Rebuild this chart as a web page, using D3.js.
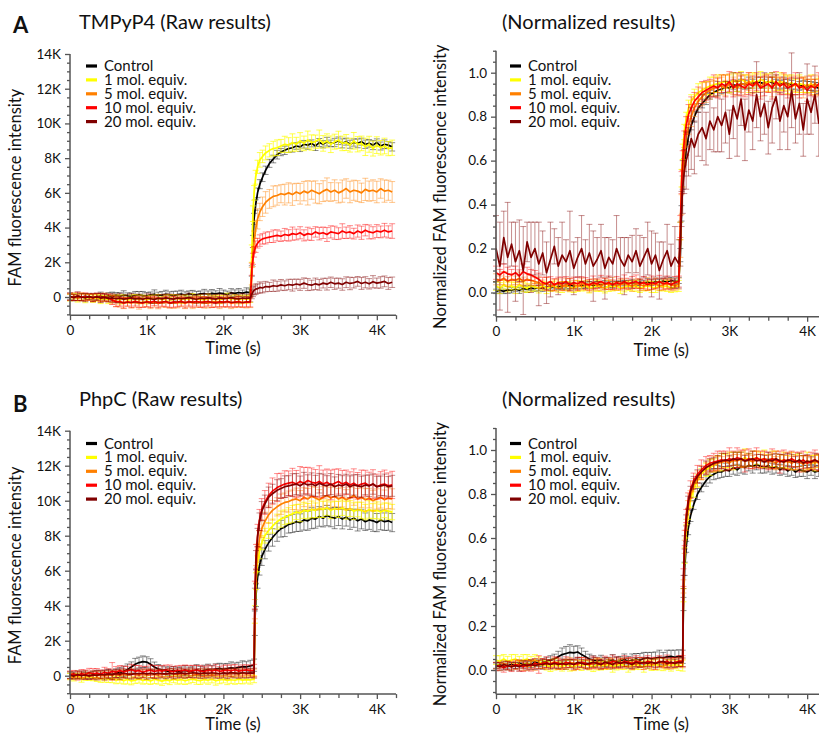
<!DOCTYPE html>
<html><head><meta charset="utf-8">
<script src="https://cdn.jsdelivr.net/npm/d3@7"></script>
<style>body{margin:0;background:#fff}svg{display:block}text{font-family:Lato,"Open Sans",sans-serif;fill:#111}</style>
</head><body><svg id="c" width="819" height="734"></svg>
<script>
const seriesNames = ["Control","1 mol. equiv.","5 mol. equiv.","10 mol. equiv.","20 mol. equiv."];
const seriesColors = ["#000000","#ffff00","#ff8000","#ff0000","#800000"];
const rawTicks = [0,2000,4000,6000,8000,10000,12000,14000];
const normTicks = [0,0.2,0.4,0.6,0.8,1.0];
const timeTicks = [0,1000,2000,3000,4000];

const timesA = [0,50,100,150,200,250,300,350,400,450,500,550,
 600,650,700,750,800,850,900,950,1000,1050,1100,1150,
 1200,1250,1300,1350,1400,1450,1500,1550,1600,1650,1700,1750,
 1800,1850,1900,1950,2000,2050,2100,2150,2200,2250,2300,2350,
 2370,2385,2400,2420,2445,2475,2510,2550,2600,2650,2700,2750,2800,2850,
 2900,2950,3000,3050,3100,3150,3200,3250,3300,
 3350,3400,3450,3500,3550,3600,3650,3700,3750,
 3800,3850,3900,3950,4000,4050,4100,4150,4200];
const timesB = [0,50,100,150,200,250,300,350,400,450,500,550,
 600,650,700,750,800,850,900,950,1000,1050,1100,1150,
 1200,1250,1300,1350,1400,1450,1500,1550,1600,1650,1700,1750,
 1800,1850,1900,1950,2000,2050,2100,2150,2200,2250,2300,2350,
 2400,2410,2425,2445,2470,2500,2540,2590,2640,2700,2750,2800,2850,
 2900,2950,3000,3050,3100,3150,3200,3250,3300,
 3350,3400,3450,3500,3550,3600,3650,3700,3750,
 3800,3850,3900,3950,4000,4050,4100,4150,4200];

// ===== A: TMPyP4, raw =====
const aRawCtrl = [20,-30,50,-10,40,0,-40,30,60,10,70,40,
 90,50,110,70,40,100,130,80,60,120,150,90,
 110,160,120,80,140,170,110,190,150,120,180,200,
 160,210,180,230,190,150,240,210,260,220,280,250,
 1500,3200,4500,5300,6000,6500,6900,7300,7700,7950,8200,8350,8450,8550,
 8600,8700,8650,8800,8750,8850,8700,8900,8800,
 8950,8850,8900,9000,8850,8950,8800,8900,8850,
 8950,8800,8850,8750,8900,8700,8800,8750,8650];
const aRawCtrlErr = [150,190,130,210,160,140,200,170,220,150,180,240,
 160,200,250,170,190,220,180,240,200,170,260,190,
 210,230,180,250,200,220,190,160,230,200,170,240,
 190,220,180,260,210,190,240,200,230,180,250,210,
 300,350,320,300,280,260,250,240,230,220,250,210,240,220,
 250,190,270,220,240,200,260,230,210,
 250,190,240,220,260,200,230,210,250,
 200,240,220,260,210,230,250,200,240];
const aRawEq1 = [-30,40,-60,10,-80,-20,-100,-50,-140,-80,-160,-100,
 -60,-150,-90,-180,-110,-50,-140,-90,-170,-80,-130,-60,
 -150,-100,-40,-120,-70,-160,-90,-130,-50,-140,-110,-170,
 -80,-130,-60,-150,-100,-40,-120,-80,-150,-90,-130,-100,
 2500,4800,6000,6900,7500,7900,8100,8300,8450,8550,8600,8700,8800,8750,
 8900,8800,9000,8850,9050,8900,8950,9100,8850,
 9000,8800,8950,9050,8850,8900,8750,9000,8800,
 8850,8650,8800,8550,8750,8600,8700,8550,8600];
const aRawEq1Err = [200,150,230,180,250,170,210,190,240,160,220,200,
 180,260,210,170,230,190,250,200,220,180,240,210,
 190,230,170,250,200,220,210,180,240,200,230,190,
 250,210,180,230,200,260,190,220,240,200,230,210,
 500,450,420,400,380,420,360,400,380,420,450,380,460,430,
 500,400,470,420,510,440,380,520,450,
 400,480,430,500,420,460,400,480,440,
 420,500,460,430,480,420,450,410,440];
const aRawEq5 = [-20,30,-50,10,-40,20,-30,0,-60,-20,-50,-150,
 -250,-300,-350,-280,-330,-300,-360,-310,-290,-340,-300,-370,
 -320,-280,-350,-310,-330,-290,-360,-300,-340,-310,-280,-320,
 -350,-300,-270,-340,-310,-290,-350,-320,-280,-330,-300,-310,
 1200,2300,3200,3900,4500,4900,5200,5450,5650,5800,5850,5950,5900,6000,
 5900,6050,5950,6100,6000,6150,6050,5950,6100,
 6200,6050,6150,6000,6100,6250,6050,6150,6100,
 6000,6200,6100,6150,6050,6250,6100,6150,6050];
const aRawEq5Err = [180,220,160,240,200,170,230,200,220,250,230,260,
 300,280,320,260,310,290,340,270,300,330,280,310,
 260,320,290,340,300,270,310,280,330,290,300,320,
 280,310,290,330,270,300,320,290,310,280,330,300,
 500,550,600,520,580,500,560,620,540,600,560,520,600,580,
 620,500,600,560,700,520,640,580,600,
 660,540,600,580,640,560,620,580,600,
 560,640,580,600,620,560,640,580,600];
const aRawEq10 = [10,-40,40,-20,30,-10,-50,20,-30,-10,-60,-180,
 -280,-260,-340,-280,-320,-250,-300,-350,-270,-310,-240,-330,
 -290,-260,-350,-280,-310,-240,-330,-270,-300,-250,-320,-280,
 -260,-310,-340,-270,-300,-250,-320,-290,-260,-330,-280,-300,
 1600,2200,2600,2900,3100,3250,3350,3400,3450,3500,3550,3500,3600,3550,
 3650,3600,3700,3550,3650,3600,3750,3650,3700,
 3600,3750,3700,3650,3800,3700,3750,3650,3800,
 3700,3850,3750,3700,3800,3750,3850,3750,3800];
const aRawEq10Err = [200,170,230,190,210,180,220,200,240,190,210,250,
 280,260,300,240,290,270,310,250,280,300,260,290,
 240,300,270,310,260,280,300,250,290,270,280,300,
 260,290,250,300,270,310,260,280,300,250,290,270,
 350,320,300,330,280,330,300,340,310,360,320,300,350,330,
 380,310,350,320,370,340,300,360,330,
 400,350,380,340,420,330,360,310,350,
 380,330,400,350,370,340,390,350,420];
const aRawEq20 = [30,-20,50,0,-40,20,-30,10,-60,-20,-80,-50,
 -100,-70,-120,-90,-50,-110,-80,-130,-60,-100,-140,-70,
 -110,-50,-90,-120,-60,-100,-80,-40,-90,-130,-70,-100,
 -50,-90,-120,-60,-100,-80,-40,-90,-110,-60,-80,-50,
 150,300,380,450,480,550,520,600,580,650,620,700,650,720,
 680,750,700,800,720,680,760,700,800,
 740,850,760,800,720,850,780,820,900,
 780,850,760,880,800,840,900,780,850];
const aRawEq20Err = [220,180,250,200,230,190,240,210,260,220,200,250,
 230,270,210,240,260,220,250,200,240,270,230,210,
 250,220,260,240,200,230,220,260,210,250,230,270,
 240,210,260,230,250,200,270,220,240,260,210,230,
 250,280,260,300,270,320,280,300,260,330,290,310,280,300,
 340,280,320,300,350,290,330,310,280,
 340,300,320,290,330,310,360,300,280,
 340,320,300,350,290,330,310,340,300];

// ===== A: TMPyP4, normalized =====
const aNormCtrl = [0.005,0.01,0.005,0.012,0.01,0.015,0.01,0.018,0.015,0.02,0.018,0.022,
 0.02,0.025,0.022,0.028,0.025,0.03,0.027,0.032,0.03,0.028,0.034,0.032,
 0.035,0.032,0.038,0.034,0.04,0.037,0.035,0.041,0.038,0.043,0.04,0.045,
 0.042,0.046,0.043,0.048,0.045,0.05,0.047,0.052,0.049,0.054,0.05,0.055,
 0.17,0.36,0.5,0.58,0.65,0.71,0.76,0.8,0.84,0.86,0.88,0.9,0.91,0.92,
 0.925,0.935,0.93,0.945,0.94,0.95,0.945,0.955,0.95,
 0.96,0.955,0.95,0.96,0.955,0.95,0.945,0.955,0.95,
 0.945,0.95,0.94,0.945,0.935,0.94,0.935,0.93,0.935];
const aNormCtrlErr = [0.01,0.012,0.01,0.015,0.012,0.01,0.014,0.012,0.015,0.01,0.013,0.012,
 0.015,0.011,0.014,0.012,0.01,0.015,0.012,0.014,0.011,0.013,0.015,0.012,
 0.014,0.011,0.013,0.012,0.015,0.012,0.013,0.011,0.014,0.012,0.015,0.013,
 0.012,0.014,0.011,0.015,0.013,0.012,0.014,0.011,0.013,0.015,0.012,0.014,
 0.03,0.035,0.03,0.03,0.025,0.025,0.02,0.025,0.02,0.02,0.025,0.02,0.02,0.025,
 0.02,0.025,0.02,0.02,0.025,0.02,0.02,0.025,0.02,
 0.02,0.025,0.02,0.02,0.025,0.02,0.02,0.025,0.02,
 0.02,0.025,0.02,0.02,0.025,0.02,0.02,0.025,0.02];
const aNormEq1 = [0.03,0.02,0.035,0.025,0.03,0.02,0.035,0.025,0.02,0.03,0.025,0.02,
 0.03,0.02,0.025,0.03,0.02,0.025,0.03,0.025,0.02,0.03,0.025,0.03,
 0.02,0.025,0.03,0.025,0.02,0.03,0.025,0.03,0.02,0.025,0.03,0.025,
 0.03,0.02,0.025,0.03,0.025,0.02,0.03,0.025,0.03,0.02,0.025,0.03,
 0.28,0.52,0.64,0.73,0.79,0.84,0.87,0.89,0.91,0.92,0.93,0.94,0.945,0.95,
 0.955,0.96,0.95,0.965,0.955,0.97,0.96,0.95,0.965,
 0.955,0.97,0.96,0.955,0.965,0.95,0.96,0.955,0.945,
 0.955,0.94,0.95,0.945,0.94,0.95,0.935,0.945,0.94];
const aNormEq1Err = [0.02,0.025,0.02,0.022,0.018,0.025,0.02,0.022,0.02,0.025,0.018,0.022,
 0.02,0.025,0.02,0.022,0.018,0.025,0.02,0.022,0.02,0.025,0.018,0.022,
 0.022,0.018,0.025,0.02,0.022,0.025,0.018,0.02,0.025,0.022,0.02,0.018,
 0.025,0.02,0.018,0.022,0.025,0.02,0.022,0.018,0.025,0.02,0.022,0.025,
 0.04,0.04,0.035,0.035,0.03,0.035,0.03,0.035,0.04,0.035,0.03,0.04,0.035,0.04,
 0.035,0.03,0.04,0.035,0.04,0.035,0.03,0.04,0.035,
 0.04,0.035,0.03,0.04,0.035,0.03,0.04,0.035,0.04,
 0.035,0.03,0.04,0.035,0.03,0.04,0.035,0.03,0.035];
const aNormEq5 = [0.06,0.055,0.065,0.05,0.06,0.055,0.065,0.05,0.06,0.055,0.05,0.045,
 0.035,0.04,0.03,0.035,0.04,0.03,0.035,0.04,0.035,0.03,0.04,0.035,
 0.03,0.04,0.035,0.03,0.04,0.035,0.04,0.03,0.035,0.04,0.035,0.03,
 0.04,0.035,0.03,0.04,0.035,0.04,0.03,0.035,0.04,0.035,0.03,0.04,
 0.2,0.4,0.52,0.62,0.7,0.76,0.8,0.84,0.87,0.89,0.91,0.92,0.93,0.935,
 0.94,0.93,0.95,0.94,0.93,0.95,0.945,0.96,0.94,
 0.95,0.935,0.955,0.945,0.935,0.95,0.94,0.955,0.945,
 0.935,0.95,0.94,0.93,0.945,0.935,0.95,0.94,0.93];
const aNormEq5Err = [0.025,0.02,0.03,0.022,0.025,0.02,0.028,0.02,0.025,0.022,0.02,0.025,
 0.022,0.028,0.02,0.025,0.022,0.02,0.028,0.025,0.02,0.022,0.025,0.02,
 0.028,0.022,0.025,0.02,0.025,0.022,0.028,0.02,0.025,0.022,0.02,0.025,
 0.022,0.025,0.02,0.028,0.022,0.025,0.02,0.025,0.022,0.028,0.02,0.025,
 0.04,0.045,0.04,0.04,0.035,0.04,0.045,0.04,0.035,0.04,0.045,0.04,0.035,0.045,
 0.04,0.035,0.045,0.04,0.035,0.04,0.045,0.04,0.035,
 0.04,0.045,0.04,0.035,0.045,0.04,0.035,0.04,0.045,
 0.04,0.035,0.04,0.045,0.04,0.035,0.04,0.045,0.04];
const aNormEq10 = [0.09,0.08,0.095,0.085,0.08,0.09,0.075,0.095,0.085,0.08,0.07,0.06,
 0.045,0.04,0.05,0.035,0.045,0.04,0.05,0.035,0.045,0.04,0.05,0.04,
 0.035,0.045,0.04,0.05,0.04,0.045,0.035,0.045,0.04,0.05,0.04,0.045,
 0.05,0.04,0.045,0.035,0.045,0.04,0.05,0.04,0.045,0.035,0.045,0.05,
 0.3,0.5,0.6,0.69,0.76,0.81,0.84,0.87,0.89,0.91,0.92,0.93,0.94,0.93,
 0.95,0.94,0.96,0.93,0.95,0.94,0.93,0.95,0.94,
 0.96,0.93,0.94,0.95,0.93,0.96,0.94,0.95,0.93,
 0.94,0.95,0.93,0.94,0.92,0.94,0.93,0.95,0.92];
const aNormEq10Err = [0.03,0.025,0.035,0.03,0.025,0.03,0.028,0.035,0.03,0.025,0.03,0.028,
 0.025,0.03,0.022,0.028,0.025,0.03,0.022,0.028,0.025,0.03,0.022,0.028,
 0.025,0.03,0.022,0.028,0.025,0.03,0.022,0.028,0.025,0.03,0.025,0.028,
 0.03,0.022,0.028,0.025,0.03,0.022,0.028,0.025,0.03,0.022,0.028,0.025,
 0.05,0.05,0.045,0.045,0.04,0.045,0.05,0.04,0.045,0.05,0.045,0.04,0.05,0.045,
 0.04,0.05,0.045,0.04,0.05,0.045,0.04,0.05,0.045,
 0.04,0.05,0.045,0.04,0.05,0.045,0.04,0.05,0.045,
 0.04,0.05,0.045,0.04,0.05,0.045,0.04,0.05,0.045];
const aNormEq20 = [0.2,0.12,0.25,0.16,0.22,0.14,0.19,0.1,0.23,0.16,0.2,0.13,
 0.18,0.09,0.15,0.21,0.12,0.17,0.14,0.19,0.11,0.16,0.2,0.13,
 0.18,0.12,0.15,0.19,0.11,0.16,0.13,0.2,0.15,0.12,0.17,0.14,
 0.19,0.12,0.16,0.2,0.13,0.17,0.1,0.15,0.19,0.12,0.16,0.13,
 0.22,0.38,0.48,0.55,0.6,0.64,0.7,0.66,0.72,0.75,0.7,0.78,0.74,0.8,
 0.76,0.82,0.72,0.85,0.79,0.88,0.74,0.83,0.78,
 0.9,0.8,0.86,0.75,0.84,0.89,0.78,0.85,0.8,
 0.92,0.79,0.86,0.74,0.88,0.82,0.9,0.77,0.84];
const aNormEq20Err = [0.15,0.2,0.12,0.25,0.1,0.18,0.14,0.2,0.09,0.16,0.12,0.19,
 0.1,0.14,0.17,0.08,0.13,0.15,0.1,0.18,0.12,0.09,0.15,0.11,
 0.13,0.16,0.1,0.12,0.14,0.09,0.11,0.15,0.1,0.13,0.08,0.12,
 0.1,0.14,0.09,0.12,0.15,0.1,0.13,0.08,0.12,0.1,0.14,0.11,
 0.1,0.08,0.12,0.1,0.13,0.11,0.14,0.12,0.1,0.15,0.12,0.13,0.1,0.16,
 0.12,0.14,0.11,0.15,0.17,0.12,0.14,0.1,0.13,
 0.15,0.11,0.14,0.12,0.16,0.1,0.13,0.12,0.15,
 0.17,0.11,0.14,0.12,0.16,0.1,0.13,0.15,0.12];

// ===== B: PhpC, raw =====
const bRawCtrl = [0,40,-30,60,20,-10,50,90,30,70,120,60,
 150,180,250,350,500,650,750,800,780,650,500,380,
 320,280,250,300,220,260,300,240,280,330,270,310,
 350,300,380,420,360,400,450,420,480,520,500,560,
 600,3000,4600,5600,6300,6800,7200,7600,7900,8200,8400,8500,8650,
 8700,8800,8750,8900,8850,9000,8950,9100,9000,
 9150,9050,9000,9100,8950,9050,8900,9000,8850,
 8950,8800,8900,8850,8750,8900,8800,8850,8750];
const bRawCtrlErr = [150,180,140,200,170,160,190,220,180,210,250,200,
 240,280,300,320,290,340,310,330,300,320,280,260,
 240,220,250,230,260,240,280,250,270,300,260,290,
 310,280,300,290,320,300,340,310,290,330,300,320,
 350,700,650,600,550,500,520,480,500,520,480,550,500,
 520,560,500,580,540,600,520,560,500,
 580,540,600,520,560,500,540,520,580,
 560,500,540,600,520,560,500,540,520];
const bRawEq1 = [-50,-100,-20,-150,-80,-60,-120,-100,-180,-150,-200,-160,
 -250,-200,-280,-220,-300,-250,-180,-270,-230,-300,-200,-260,
 -310,-240,-280,-200,-260,-220,-290,-230,-200,-250,-280,-220,
 -260,-200,-290,-240,-210,-270,-230,-260,-200,-250,-220,-240,
 -200,3500,5400,6400,7100,7600,8000,8300,8550,8800,8950,9050,9150,
 9250,9350,9300,9450,9400,9500,9450,9550,9500,
 9600,9450,9550,9500,9600,9450,9550,9400,9500,
 9450,9350,9500,9400,9450,9350,9450,9400,9350];
const bRawEq1Err = [180,200,160,220,190,210,170,230,200,220,190,240,
 210,230,200,250,220,190,240,210,230,200,250,220,
 240,210,230,200,220,250,210,230,190,240,220,200,
 230,210,250,220,200,240,210,230,250,220,200,240,
 200,500,480,450,420,400,420,450,400,430,460,420,450,
 480,430,500,460,440,480,420,500,460,
 440,480,420,460,440,500,450,480,420,
 460,440,500,430,480,450,420,460,440];
const bRawEq5 = [20,-30,50,0,60,-20,40,10,30,-10,60,20,
 80,30,100,60,120,80,50,110,70,130,90,60,
 120,80,140,100,70,130,90,150,110,80,120,100,
 140,90,130,110,150,100,120,160,110,140,100,130,
 120,3800,5800,7000,7800,8400,8800,9200,9450,9650,9800,9900,9950,
 10050,10100,10000,10200,10100,10250,10150,10050,10200,
 10300,10150,10250,10100,10200,10050,10150,10300,10100,
 10200,10050,10150,10000,10100,10200,10050,10150,10100];
const bRawEq5Err = [200,170,220,190,210,180,230,250,220,270,240,260,
 230,280,250,230,270,240,260,230,280,250,240,270,
 230,260,250,280,240,260,250,230,270,240,260,280,
 250,270,240,260,230,280,250,240,270,260,230,250,
 250,550,500,520,480,500,540,500,560,520,580,540,600,
 560,620,580,540,600,560,620,580,600,
 560,620,580,600,560,580,620,560,600,
 580,640,560,600,580,620,560,600,580];
const bRawEq10 = [50,100,0,120,60,180,100,150,80,200,140,250,
 200,300,220,280,350,250,300,200,280,320,240,300,
 260,340,280,230,310,270,330,250,290,320,280,240,
 310,270,330,250,290,320,280,340,260,300,330,290,
 300,4600,6800,8000,8900,9500,9900,10300,10550,10750,10850,10950,11000,
 11050,10950,11100,11000,11150,11050,11000,11100,10950,
 11050,10900,11000,11100,10950,11050,10900,11000,10850,
 10950,11000,10850,10950,10800,10900,10950,10850,10900];
const bRawEq10Err = [220,200,250,230,270,240,300,260,240,280,260,500,
 320,280,320,260,300,340,280,320,260,300,340,280,
 310,270,330,290,260,320,280,340,300,270,310,290,
 300,280,320,270,310,290,330,300,280,320,290,310,
 350,800,700,650,600,620,680,700,750,800,720,760,700,
 800,780,850,900,760,820,780,900,800,
 760,850,800,720,780,700,750,820,760,
 800,740,780,820,720,760,800,740,780];
const bRawEq20 = [30,-20,60,0,40,-10,50,20,70,40,90,60,
 120,90,140,100,80,130,110,150,100,130,90,140,
 120,100,150,110,130,160,120,140,170,150,120,160,
 130,170,140,110,160,130,180,150,120,170,140,160,
 150,4400,6600,7900,8800,9400,9800,10200,10400,10600,10700,10800,10850,
 10900,10950,10850,11000,10900,10950,10850,11000,10900,
 10850,10950,10800,10900,10850,10950,10800,10900,10850,
 10800,10900,10850,10950,10800,10850,10900,10800,10850];
const bRawEq20Err = [200,180,220,200,240,210,230,260,240,280,250,270,
 240,290,260,240,280,250,270,240,290,260,250,280,
 240,270,260,290,250,270,260,240,280,250,270,290,
 260,240,280,250,270,300,260,280,250,290,270,260,
 280,600,550,520,500,550,520,580,540,600,560,620,580,
 640,600,560,620,580,640,600,560,620,
 580,600,560,600,580,560,620,580,640,
 600,560,620,580,600,560,620,580,600];

// ===== B: PhpC, normalized =====
const bNormCtrl = [0.02,0.025,0.015,0.02,0.025,0.02,0.03,0.025,0.03,0.025,0.035,0.03,
 0.035,0.04,0.045,0.05,0.06,0.07,0.075,0.08,0.078,0.082,0.07,0.06,
 0.05,0.045,0.04,0.045,0.035,0.04,0.045,0.038,0.042,0.048,0.04,0.045,
 0.05,0.045,0.052,0.055,0.05,0.054,0.058,0.055,0.06,0.062,0.058,0.062,
 0.06,0.3,0.46,0.56,0.64,0.7,0.75,0.8,0.83,0.86,0.88,0.89,0.9,
 0.9,0.91,0.905,0.92,0.91,0.925,0.92,0.93,0.925,
 0.935,0.925,0.92,0.93,0.915,0.925,0.91,0.92,0.905,
 0.915,0.9,0.91,0.905,0.9,0.91,0.9,0.905,0.895];
const bNormCtrlErr = [0.012,0.01,0.014,0.012,0.01,0.013,0.015,0.012,0.014,0.013,0.015,0.014,
 0.016,0.018,0.02,0.022,0.025,0.03,0.032,0.035,0.03,0.028,0.03,0.025,
 0.022,0.02,0.018,0.022,0.02,0.018,0.025,0.022,0.02,0.025,0.022,0.028,
 0.025,0.03,0.028,0.025,0.03,0.028,0.032,0.025,0.03,0.028,0.032,0.03,
 0.03,0.03,0.03,0.025,0.025,0.025,0.02,0.025,0.02,0.025,0.03,0.025,0.03,
 0.025,0.03,0.025,0.03,0.025,0.03,0.03,0.025,0.03,
 0.025,0.03,0.025,0.03,0.025,0.03,0.025,0.03,0.025,
 0.03,0.025,0.03,0.025,0.03,0.025,0.03,0.025,0.03];
const bNormEq1 = [0.045,0.04,0.05,0.04,0.045,0.05,0.04,0.045,0.05,0.04,0.045,0.04,
 0.025,0.02,0.015,0.025,0.02,0.015,0.025,0.02,0.015,0.025,0.02,0.025,
 0.02,0.015,0.025,0.02,0.02,0.025,0.015,0.02,0.025,0.02,0.015,0.02,
 0.025,0.02,0.015,0.025,0.02,0.025,0.02,0.015,0.025,0.02,0.025,0.02,
 0.02,0.34,0.52,0.63,0.71,0.77,0.82,0.86,0.89,0.91,0.92,0.93,0.94,
 0.945,0.95,0.955,0.95,0.96,0.955,0.965,0.955,0.96,
 0.965,0.955,0.96,0.95,0.96,0.955,0.95,0.955,0.945,
 0.95,0.945,0.955,0.94,0.95,0.945,0.94,0.95,0.94];
const bNormEq1Err = [0.02,0.025,0.02,0.022,0.025,0.02,0.022,0.025,0.02,0.022,0.025,0.02,
 0.018,0.02,0.022,0.025,0.018,0.02,0.022,0.025,0.018,0.02,0.022,0.018,
 0.02,0.022,0.025,0.02,0.018,0.022,0.025,0.02,0.022,0.018,0.025,0.02,
 0.022,0.018,0.025,0.02,0.022,0.025,0.02,0.018,0.022,0.025,0.02,0.022,
 0.025,0.03,0.035,0.03,0.025,0.03,0.035,0.03,0.025,0.03,0.035,0.03,0.035,
 0.04,0.03,0.035,0.04,0.03,0.035,0.04,0.03,0.035,
 0.03,0.035,0.04,0.03,0.035,0.04,0.03,0.035,0.03,
 0.04,0.035,0.03,0.035,0.04,0.03,0.035,0.03,0.035];
const bNormEq5 = [0.02,0.015,0.025,0.02,0.015,0.02,0.025,0.02,0.015,0.025,0.02,0.025,
 0.03,0.025,0.03,0.035,0.03,0.025,0.03,0.035,0.03,0.025,0.035,0.03,
 0.025,0.03,0.035,0.03,0.025,0.035,0.03,0.025,0.035,0.03,0.035,0.03,
 0.025,0.035,0.03,0.035,0.025,0.03,0.035,0.03,0.025,0.035,0.03,0.035,
 0.03,0.38,0.56,0.66,0.74,0.79,0.84,0.87,0.9,0.92,0.93,0.935,0.94,
 0.945,0.95,0.94,0.955,0.95,0.96,0.95,0.955,0.945,
 0.96,0.95,0.955,0.945,0.95,0.94,0.955,0.945,0.95,
 0.94,0.95,0.945,0.935,0.945,0.94,0.95,0.94,0.945];
const bNormEq5Err = [0.015,0.018,0.015,0.02,0.015,0.018,0.02,0.022,0.018,0.02,0.022,0.018,
 0.02,0.022,0.018,0.02,0.022,0.018,0.02,0.022,0.018,0.02,0.022,0.018,
 0.022,0.018,0.02,0.022,0.018,0.02,0.022,0.018,0.02,0.022,0.018,0.02,
 0.018,0.022,0.02,0.018,0.022,0.02,0.018,0.022,0.02,0.018,0.022,0.02,
 0.02,0.03,0.03,0.025,0.03,0.025,0.03,0.035,0.03,0.025,0.03,0.035,0.03,
 0.025,0.035,0.03,0.025,0.03,0.035,0.03,0.025,0.03,
 0.035,0.03,0.025,0.03,0.035,0.03,0.025,0.03,0.035,
 0.03,0.025,0.03,0.035,0.03,0.025,0.03,0.035,0.03];
const bNormEq10 = [0.015,0.02,0.01,0.02,0.015,0.025,0.02,0.015,0.025,0.02,0.03,0.025,
 0.03,0.035,0.025,0.035,0.03,0.025,0.035,0.03,0.025,0.03,0.035,0.03,
 0.025,0.035,0.03,0.025,0.035,0.03,0.04,0.035,0.03,0.04,0.035,0.03,
 0.04,0.035,0.03,0.04,0.035,0.03,0.04,0.035,0.04,0.03,0.035,0.04,
 0.04,0.42,0.6,0.7,0.77,0.82,0.86,0.89,0.91,0.93,0.94,0.945,0.95,
 0.955,0.95,0.96,0.955,0.965,0.96,0.95,0.96,0.955,
 0.965,0.955,0.96,0.95,0.96,0.955,0.945,0.955,0.95,
 0.96,0.95,0.945,0.955,0.94,0.95,0.955,0.945,0.94];
const bNormEq10Err = [0.018,0.015,0.02,0.018,0.022,0.02,0.025,0.022,0.02,0.025,0.022,0.04,
 0.022,0.025,0.02,0.025,0.028,0.022,0.025,0.02,0.025,0.028,0.022,0.025,
 0.02,0.028,0.025,0.022,0.028,0.025,0.028,0.025,0.022,0.025,0.022,0.028,
 0.025,0.022,0.028,0.025,0.022,0.028,0.025,0.022,0.028,0.025,0.022,0.025,
 0.025,0.04,0.035,0.03,0.035,0.04,0.035,0.04,0.045,0.04,0.035,0.04,0.045,
 0.04,0.045,0.05,0.04,0.045,0.04,0.05,0.045,0.04,
 0.045,0.04,0.035,0.04,0.045,0.04,0.05,0.045,0.04,
 0.035,0.04,0.045,0.04,0.035,0.04,0.045,0.04,0.035];
const bNormEq20 = [0.02,0.015,0.025,0.02,0.015,0.02,0.015,0.025,0.02,0.025,0.02,0.025,
 0.025,0.03,0.025,0.03,0.025,0.03,0.025,0.03,0.025,0.035,0.03,0.025,
 0.03,0.035,0.03,0.025,0.035,0.03,0.025,0.035,0.03,0.035,0.03,0.025,
 0.035,0.03,0.035,0.03,0.035,0.03,0.035,0.04,0.03,0.035,0.03,0.035,
 0.035,0.4,0.58,0.68,0.76,0.81,0.85,0.88,0.9,0.92,0.93,0.94,0.945,
 0.95,0.955,0.95,0.96,0.955,0.96,0.95,0.955,0.96,
 0.95,0.955,0.945,0.955,0.95,0.96,0.95,0.945,0.955,
 0.95,0.945,0.955,0.94,0.95,0.945,0.955,0.945,0.94];
const bNormEq20Err = [0.015,0.018,0.015,0.02,0.018,0.015,0.02,0.018,0.02,0.022,0.018,0.02,
 0.022,0.018,0.02,0.022,0.018,0.02,0.022,0.018,0.02,0.022,0.018,0.02,
 0.02,0.022,0.018,0.02,0.022,0.018,0.02,0.022,0.018,0.02,0.022,0.018,
 0.022,0.018,0.02,0.022,0.018,0.02,0.022,0.018,0.02,0.022,0.018,0.02,
 0.02,0.03,0.03,0.025,0.03,0.025,0.03,0.03,0.025,0.03,0.03,0.025,0.03,
 0.035,0.03,0.025,0.03,0.035,0.03,0.025,0.03,0.035,
 0.03,0.025,0.03,0.035,0.03,0.025,0.03,0.035,0.03,
 0.03,0.025,0.03,0.035,0.03,0.025,0.03,0.035,0.03];

// ===== layout (positions only) =====
const panels = [
  {times:timesA, vals:[aRawCtrl,aRawEq1,aRawEq5,aRawEq10,aRawEq20], errs:[aRawCtrlErr,aRawEq1Err,aRawEq5Err,aRawEq10Err,aRawEq20Err],
   kind:"raw", x0:70, x1:396, yZero:297, yTopVal:54, title:"TMPyP4 (Raw results)", tx:79, ty:29, letter:"A", ly:33,
   ylab:"FAM fluorescence intensity", ylx:21, legX:86, legY:66, xlabDy:39},
  {times:timesA, vals:[aNormCtrl,aNormEq1,aNormEq5,aNormEq10,aNormEq20], errs:[aNormCtrlErr,aNormEq1Err,aNormEq5Err,aNormEq10Err,aNormEq20Err],
   kind:"norm", x0:496, x1:826.6, yZero:292.5, yTopVal:72.7, title:"(Normalized results)", tx:502, ty:29,
   ylab:"Normalized FAM fluorescence intensity", ylx:446, legX:510, legY:66, xlabDy:39},
  {times:timesB, vals:[bRawCtrl,bRawEq1,bRawEq5,bRawEq10,bRawEq20], errs:[bRawCtrlErr,bRawEq1Err,bRawEq5Err,bRawEq10Err,bRawEq20Err],
   kind:"raw", x0:70, x1:396, yZero:675.7, yTopVal:430.7, title:"PhpC (Raw results)", tx:79, ty:406, letter:"B", ly:412,
   ylab:"FAM fluorescence intensity", ylx:21, legX:86, legY:443.5, xlabDy:36},
  {times:timesB, vals:[bNormCtrl,bNormEq1,bNormEq5,bNormEq10,bNormEq20], errs:[bNormCtrlErr,bNormEq1Err,bNormEq5Err,bNormEq10Err,bNormEq20Err],
   kind:"norm", x0:496, x1:826.6, yZero:670, yTopVal:450, title:"(Normalized results)", tx:502, ty:406,
   ylab:"Normalized FAM fluorescence intensity", ylx:446, legX:510, legY:443.5, xlabDy:36}
];

const svg = d3.select("#c");
const axisCol = "#555";

panels.forEach(p => {
  const g = svg.append("g");
  const x = d3.scaleLinear().domain([0,4250]).range([p.x0,p.x1]);
  let y, domain, majorT, minorT, fmt;
  if (p.kind === "raw") {
    domain = [-1050,14000];
    const per = (p.yZero - p.yTopVal)/14000;
    y = d3.scaleLinear().domain(domain).range([p.yZero + 1050*per, p.yTopVal]);
    majorT = rawTicks;
    minorT = [-1000,-500,500,1000,1500,2500,3000,3500,4500,5000,5500,6500,7000,7500,8500,9000,9500,10500,11000,11500,12500,13000,13500];
    fmt = v => v===0 ? "0" : (v/1000)+"K";
  } else {
    domain = [-0.11,1.1];
    const per = (p.yZero - p.yTopVal);
    y = d3.scaleLinear().domain(domain).range([p.yZero + 0.11*per, p.yZero - 1.1*per]);
    majorT = normTicks;
    minorT = [-0.1,-0.05,0.05,0.1,0.15,0.25,0.3,0.35,0.45,0.5,0.55,0.65,0.7,0.75,0.85,0.9,0.95,1.05,1.1];
    fmt = d3.format(".1f");
  }
  const yb = y(domain[0]), yt = y(domain[1]);

  const plot = g.append("g");
  p.vals.forEach((vals, si) => {
    const col = seriesColors[si];
    const op = si===1 ? 0.7 : 0.45;
    const sg = plot.append("g");
    const pts = p.times.map((t,i)=>({t, v:vals[i], e:p.errs[si][i]})).filter(d=>d.v!=null && d.e!=null);
    sg.selectAll("line.eb").data(pts).join("line")
      .attr("x1",d=>x(d.t)).attr("x2",d=>x(d.t))
      .attr("y1",d=>y(d.v-d.e)).attr("y2",d=>y(d.v+d.e))
      .attr("stroke",col).attr("stroke-opacity",op).attr("stroke-width",1);
    ["top","bot"].forEach(k=>{
      sg.selectAll("line.c"+k).data(pts).join("line")
        .attr("x1",d=>x(d.t)-3).attr("x2",d=>x(d.t)+3)
        .attr("y1",d=>y(k==="top"?d.v+d.e:d.v-d.e)).attr("y2",d=>y(k==="top"?d.v+d.e:d.v-d.e))
        .attr("stroke",col).attr("stroke-opacity",op).attr("stroke-width",1);
    });
    sg.append("path").datum(pts)
      .attr("d", d3.line().x(d=>x(d.t)).y(d=>y(d.v)))
      .attr("fill","none").attr("stroke",col).attr("stroke-width",1.7).attr("stroke-linejoin","round");
  });

  const ya = g.append("g").attr("transform",`translate(${p.x0},0)`)
    .call(d3.axisLeft(y).tickValues(majorT).tickFormat(fmt).tickSize(5).tickPadding(4));
  const ym = g.append("g").attr("transform",`translate(${p.x0},0)`)
    .call(d3.axisLeft(y).tickValues(minorT).tickFormat("").tickSize(3));
  const xa = g.append("g").attr("transform",`translate(0,${yb})`)
    .call(d3.axisBottom(x).tickValues(timeTicks).tickFormat(v=>v===0?"0":(v/1000)+"K").tickSize(5).tickPadding(5));
  const xm = g.append("g").attr("transform",`translate(0,${yb})`)
    .call(d3.axisBottom(x).tickValues([250,500,750,1250,1500,1750,2250,2500,2750,3250,3500,3750,4250]).tickFormat("").tickSize(4));
  [ya,ym,xa,xm].forEach(a=>{
    a.select(".domain").remove();
    a.selectAll(".tick line").attr("stroke",axisCol).attr("stroke-width",1.3);
    a.selectAll(".tick text").attr("font-size",13.5).attr("font-family","Lato, sans-serif").attr("fill","#111");
  });
  g.append("line").attr("x1",p.x0).attr("x2",p.x0).attr("y1",yt).attr("y2",yb).attr("stroke",axisCol).attr("stroke-width",1.5);
  g.append("line").attr("x1",p.x0).attr("x2",p.x1).attr("y1",yb).attr("y2",yb).attr("stroke",axisCol).attr("stroke-width",1.5);

  g.append("text").attr("x",(p.x0+p.x1)/2).attr("y",yb+p.xlabDy).attr("text-anchor","middle").attr("font-size",16.5).text("Time (s)");
  g.append("text").attr("transform",`translate(${p.ylx},${(yt+yb)/2+3}) rotate(-90)`).attr("text-anchor","middle")
    .attr("font-size",16.5).text(p.ylab);

  g.append("text").attr("x",p.tx).attr("y",p.ty).attr("font-size",20).text(p.title);
  if (p.letter) g.append("text").attr("x",13).attr("y",p.ly).attr("font-size",22).attr("font-weight","bold")
      .attr("font-family","'Liberation Sans', Arial, sans-serif").text(p.letter);

  const lg = g.append("g");
  seriesNames.forEach((n,i)=>{
    const yy = p.legY + i*13.9;
    lg.append("line").attr("x1",p.legX).attr("x2",p.legX+11).attr("y1",yy).attr("y2",yy)
      .attr("stroke",seriesColors[i]).attr("stroke-width",3.2);
    lg.append("text").attr("x",p.legX+18).attr("y",yy+5).attr("font-size",15).text(n);
  });
});
</script></body></html>
